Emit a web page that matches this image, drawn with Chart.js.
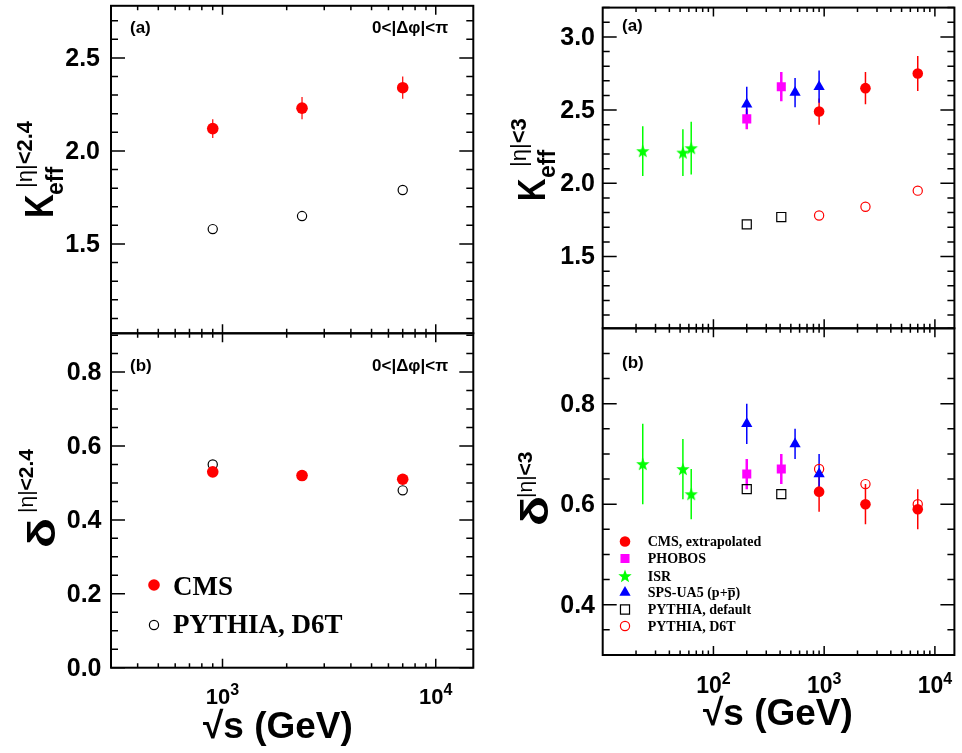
<!DOCTYPE html>
<html>
<head>
<meta charset="utf-8">
<script src="https://cdn.jsdelivr.net/npm/chart.js@4.4.1/dist/chart.umd.min.js"></script>
<style>
  html, body { margin: 0; padding: 0; background: #fff; }
  #wrap { position: relative; width: 962px; height: 753px; overflow: hidden; }
  #wrap canvas { position: absolute; left: 0; top: 0; }
</style>
</head>
<body>
<div id="wrap">
  <canvas id="tl" width="962" height="753"></canvas>
  <canvas id="bl" width="962" height="753"></canvas>
  <canvas id="tr" width="962" height="753"></canvas>
  <canvas id="br" width="962" height="753"></canvas>
</div>
<script>
// left column: CMS |eta|<2.4
const cmsEnergy = [900, 2360, 7000];
const cmsKeff = [2.12, 2.23, 2.34];
const cmsKeffErr = [0.05, 0.06, 0.06];
const cmsDelta = [0.53, 0.52, 0.51];
const d6tLeftKeff = [1.58, 1.65, 1.79];
const d6tLeftDelta = [0.55, 0.52, 0.48];

// right column: |eta|<3 comparison
const isrEnergy = [23, 53, 63];
const isrKeff = [2.22, 2.21, 2.24];
const isrKeffErr = [0.17, 0.16, 0.18];
const isrDelta = [0.68, 0.67, 0.62];
const isrDeltaErr = [0.08, 0.06, 0.05];

const phobosEnergy = [200, 410];
const phobosKeff = [2.44, 2.66];
const phobosKeffErr = [0.07, 0.1];
const phobosDelta = [0.66, 0.67];
const phobosDeltaErr = [0.03, 0.03];

const ua5Energy = [200, 546, 900];
const ua5Keff = [2.54, 2.62, 2.66];
const ua5KeffErr = [0.12, 0.1, 0.11];
const ua5Delta = [0.76, 0.72, 0.66];
const ua5DeltaErr = [0.04, 0.03, 0.04];

const cmsExtEnergy = [900, 2360, 7000];
const cmsExtKeff = [2.49, 2.65, 2.75];
const cmsExtKeffErr = [0.09, 0.11, 0.12];
const cmsExtDelta = [0.625, 0.60, 0.59];
const cmsExtDeltaErr = [0.04, 0.04, 0.04];

const pyDefEnergy = [200, 410];
const pyDefKeff = [1.72, 1.77];
const pyDefDelta = [0.63, 0.62];

const pyD6TEnergy = [900, 2360, 7000];
const pyD6TKeff = [1.78, 1.84, 1.95];
const pyD6TDelta = [0.67, 0.64, 0.60];

// tick labels
const keffTicksLeft = [1.5, 2.0, 2.5];
const deltaTicksLeft = [0.0, 0.2, 0.4, 0.6, 0.8];
const keffTicksRight = [1.5, 2.0, 2.5, 3.0];
const deltaTicksRight = [0.4, 0.6, 0.8];
const decadesLeft = [3, 4];
const decadesRight = [2, 3, 4];

const W = 962, H = 753;
const SANS = '"Liberation Sans", Arial, Helvetica, sans-serif';
const SERIF = '"Liberation Serif", "Times New Roman", serif';

// filled star marker for ISR
const starImg = document.createElement('canvas');
starImg.width = 16; starImg.height = 16;
(function () {
  const c = starImg.getContext('2d');
  c.beginPath();
  for (let i = 0; i < 10; i++) {
    const r = i % 2 ? 2.9 : 7;
    const a = -Math.PI / 2 + i * Math.PI / 5;
    c.lineTo(8 + r * Math.cos(a), 8.5 + r * Math.sin(a));
  }
  c.closePath();
  c.fillStyle = '#00ff00';
  c.fill();
})();

function series(label, xs, ys, errs, st) {
  return Object.assign({
    label,
    data: xs.map((x, i) => ({ x, y: ys[i] })),
    errors: errs,
    borderWidth: 0,
  }, st);
}

const stCms = { pointStyle: 'circle', pointRadius: 5.8, backgroundColor: '#ff0000', borderColor: '#ff0000', errColor: '#ff0000', errWidth: 1.2 };
const stOpenBlack = { pointStyle: 'circle', pointRadius: 4.6, backgroundColor: 'rgba(0,0,0,0)', borderColor: '#000', borderWidth: 1.2 };
const stCmsR = { pointStyle: 'circle', pointRadius: 5.3, backgroundColor: '#ff0000', borderColor: '#ff0000', errColor: '#ff0000', errWidth: 1.5 };
const stPhobos = { pointStyle: 'rect', pointRadius: 6.4, backgroundColor: '#ff00ff', borderColor: '#ff00ff', errColor: '#ff00ff', errWidth: 2.5 };
const stIsr = { pointStyle: starImg, pointRadius: 7, backgroundColor: '#00ff00', borderColor: '#00ff00', errColor: '#00ff00', errWidth: 1.5 };
const stUa5 = { pointStyle: 'triangle', pointRadius: 6.5, backgroundColor: '#0000ff', borderColor: '#0000ff', errColor: '#0000ff', errWidth: 1.5 };
const stPyDef = { pointStyle: 'rect', pointRadius: 6.4, backgroundColor: 'rgba(0,0,0,0)', borderColor: '#000', borderWidth: 1.2 };
const stPyD6T = { pointStyle: 'circle', pointRadius: 4.6, backgroundColor: 'rgba(0,0,0,0)', borderColor: '#ff0000', borderWidth: 1.2 };

// vertical text, reading bottom to top; parts = [[text, font], ...]
function vtext(ctx, parts, xBase, yStart, sx) {
  ctx.save();
  ctx.translate(xBase, yStart);
  ctx.rotate(-Math.PI / 2);
  ctx.scale(sx || 1, 1);
  ctx.textAlign = 'left';
  ctx.textBaseline = 'alphabetic';
  let off = 0;
  parts.forEach(([txt, font]) => {
    ctx.font = font;
    ctx.fillText(txt, off, 0);
    off += ctx.measureText(txt).width;
  });
  ctx.restore();
}

function drawMarker(ctx, ds, x, y) {
  const r = ds.pointRadius;
  if (ds.pointStyle instanceof HTMLCanvasElement) {
    ctx.drawImage(ds.pointStyle, x - ds.pointStyle.width / 2, y - ds.pointStyle.height / 2);
    return;
  }
  ctx.beginPath();
  if (ds.pointStyle === 'circle') {
    ctx.arc(x, y, r, 0, Math.PI * 2);
  } else if (ds.pointStyle === 'rect') {
    const s = r * Math.SQRT1_2;
    ctx.rect(x - s, y - s, 2 * s, 2 * s);
  } else if (ds.pointStyle === 'triangle') {
    for (let k = 0; k < 3; k++) {
      const a = k * 2 * Math.PI / 3;
      ctx.lineTo(x + Math.sin(a) * r, y - Math.cos(a) * r);
    }
    ctx.closePath();
  }
  ctx.fillStyle = ds.backgroundColor;
  ctx.fill();
  if (ds.borderWidth) {
    ctx.lineWidth = ds.borderWidth;
    ctx.strokeStyle = ds.borderColor;
    ctx.stroke();
  }
}

function makePanel(p) {
  const decor = {
    id: 'decor',
    beforeDatasetsDraw(chart) {
      const ctx = chart.ctx, ys = chart.scales.y, a = chart.chartArea;
      ctx.save();
      ctx.beginPath();
      ctx.rect(a.left, a.top, a.right - a.left, a.bottom - a.top);
      ctx.clip();
      chart.data.datasets.forEach((ds, i) => {
        if (!ds.errors) return;
        const meta = chart.getDatasetMeta(i);
        ctx.strokeStyle = ds.errColor;
        ctx.lineWidth = ds.errWidth;
        ds.data.forEach((d, j) => {
          const e = ds.errors[j];
          if (!e) return;
          const px = meta.data[j].x;
          ctx.beginPath();
          ctx.moveTo(px, ys.getPixelForValue(d.y - e));
          ctx.lineTo(px, ys.getPixelForValue(d.y + e));
          ctx.stroke();
        });
      });
      ctx.restore();
    },
    afterDraw(chart) {
      const ctx = chart.ctx, xs = chart.scales.x, ys = chart.scales.y, a = chart.chartArea;
      ctx.save();
      ctx.strokeStyle = '#000';
      ctx.fillStyle = '#000';
      // y ticks, both sides
      ctx.lineWidth = 1.5;
      const n0 = Math.ceil(p.y[0] / p.yMinor - 1e-6), n1 = Math.floor(p.y[1] / p.yMinor + 1e-6);
      for (let k = n0; k <= n1; k++) {
        const v = k * p.yMinor;
        const q = v / p.yMajor;
        const major = Math.abs(q - Math.round(q)) < 1e-6;
        const len = major ? 14 : 7;
        const py = ys.getPixelForValue(v);
        ctx.beginPath();
        ctx.moveTo(a.left, py); ctx.lineTo(a.left + len, py);
        ctx.moveTo(a.right, py); ctx.lineTo(a.right - len, py);
        ctx.stroke();
      }
      // x ticks, top and bottom (log)
      const d0 = Math.floor(Math.log10(p.x[0])), d1 = Math.ceil(Math.log10(p.x[1]));
      for (let d = d0; d <= d1; d++) {
        for (let m = 1; m <= 9; m++) {
          const v = m * Math.pow(10, d);
          if (v <= p.x[0] * 1.001 || v >= p.x[1]) continue;
          const len = m === 1 ? 9 : 4.5;
          const px = xs.getPixelForValue(v);
          ctx.beginPath();
          ctx.moveTo(px, a.bottom); ctx.lineTo(px, a.bottom - len);
          ctx.moveTo(px, a.top); ctx.lineTo(px, a.top + len);
          ctx.stroke();
        }
      }
      // frame
      ctx.lineWidth = 2;
      ctx.strokeRect(a.left, a.top, a.right - a.left, a.bottom - a.top);

      // y tick labels
      ctx.font = 'bold 25px ' + SANS;
      ctx.textAlign = 'right';
      ctx.textBaseline = 'middle';
      p.yLabels.forEach(v => {
        ctx.fillText(v.toFixed(1), p.yLabelRight, ys.getPixelForValue(v) + 1);
      });

      // x tick labels 10^n
      if (p.xLabels) {
        ctx.textBaseline = 'alphabetic';
        ctx.textAlign = 'left';
        p.xLabels.forEach(d => {
          const px = xs.getPixelForValue(Math.pow(10, d));
          ctx.font = 'bold ' + p.xFont + 'px ' + SANS;
          const w1 = ctx.measureText('10').width;
          ctx.font = 'bold 16px ' + SANS;
          const w2 = ctx.measureText(String(d)).width;
          const x0 = px - (w1 + w2) / 2;
          ctx.font = 'bold ' + p.xFont + 'px ' + SANS;
          ctx.fillText('10', x0, p.xLabelBase);
          ctx.font = 'bold 16px ' + SANS;
          ctx.fillText(String(d), x0 + w1, p.xLabelBase - 9);
        });
      }
      p.extra(ctx, chart);
      ctx.restore();
    }
  };
  return new Chart(document.getElementById(p.id), {
    type: 'scatter',
    data: { datasets: p.datasets },
    options: {
      responsive: false,
      animation: false,
      events: [],
      layout: { padding: { left: p.box.l, top: p.box.t, right: W - p.box.r, bottom: H - p.box.b } },
      scales: {
        x: { type: 'logarithmic', min: p.x[0], max: p.x[1], display: false },
        y: { type: 'linear', min: p.y[0], max: p.y[1], display: false }
      },
      plugins: { legend: { display: false }, tooltip: { enabled: false } }
    },
    plugins: [decor]
  });
}

function panelText(ctx, txt, x, y) {
  ctx.font = 'bold 17px ' + SANS;
  ctx.textAlign = 'left';
  ctx.textBaseline = 'alphabetic';
  ctx.fillText(txt, x, y);
}

function supParts(limit, size) {
  return [['|η|', size + 'px ' + SANS], ['<' + limit, 'bold ' + size + 'px ' + SANS]];
}

// top left: K_eff, |eta|<2.4
makePanel({
  id: 'tl', box: { l: 111, t: 3, r: 473.3, b: 333.3 },
  x: [300, 15000], y: [1.02, 2.78], yMajor: 0.5, yMinor: 0.1,
  yLabels: keffTicksLeft, yLabelRight: 100, xLabels: null,
  datasets: [
    series('CMS', cmsEnergy, cmsKeff, cmsKeffErr, stCms),
    series('PYTHIA, D6T', cmsEnergy, d6tLeftKeff, null, stOpenBlack)
  ],
  extra(ctx) {
    panelText(ctx, '(a)', 130, 33);
    panelText(ctx, '0<|Δφ|<π', 372, 33);
    vtext(ctx, [['K', 'bold 41px ' + SANS]], 53, 218, 0.8);
    vtext(ctx, [['eff', 'bold 23px ' + SANS]], 63, 195);
    vtext(ctx, supParts('2.4', 22), 32, 188);
  }
});

// bottom left: delta, |eta|<2.4
makePanel({
  id: 'bl', box: { l: 111, t: 333.3, r: 473.3, b: 667.7 },
  x: [300, 15000], y: [0, 0.905], yMajor: 0.2, yMinor: 0.05,
  yLabels: deltaTicksLeft, yLabelRight: 101.5, xLabels: decadesLeft, xFont: 22, xLabelBase: 704,
  datasets: [
    series('CMS', cmsEnergy, cmsDelta, null, stCms),
    series('PYTHIA, D6T', cmsEnergy, d6tLeftDelta, null, stOpenBlack)
  ],
  extra(ctx, chart) {
    panelText(ctx, '(b)', 130, 371);
    panelText(ctx, '0<|Δφ|<π', 372, 371);
    vtext(ctx, [['δ', 'bold 38px ' + SANS]], 55, 548, 1.3);
    vtext(ctx, supParts('2.4', 21), 33, 513);
    // legend
    const ds = chart.data.datasets;
    const rows = [[585, 595], [625, 633]];
    ds.forEach((d, i) => {
      drawMarker(ctx, d, 154, rows[i][0]);
      ctx.fillStyle = '#000';
      ctx.font = 'bold 27px ' + SERIF;
      ctx.textAlign = 'left';
      ctx.textBaseline = 'alphabetic';
      ctx.fillText(d.label, 173, rows[i][1]);
    });
    // axis title
    ctx.font = 'bold 37px ' + SANS;
    ctx.fillText('√s (GeV)', 203, 738);
  }
});

// top right: K_eff, |eta|<3
makePanel({
  id: 'tr', box: { l: 602.7, t: 0.5, r: 960, b: 328.3 },
  x: [10, 15000], y: [1.01, 3.2], yMajor: 0.5, yMinor: 0.1,
  yLabels: keffTicksRight, yLabelRight: 595, xLabels: null,
  datasets: [
    series('CMS, extrapolated', cmsExtEnergy, cmsExtKeff, cmsExtKeffErr, stCmsR),
    series('PHOBOS', phobosEnergy, phobosKeff, phobosKeffErr, stPhobos),
    series('ISR', isrEnergy, isrKeff, isrKeffErr, stIsr),
    series('SPS-UA5 (p+p\u0305)', ua5Energy, ua5Keff, ua5KeffErr, stUa5),
    series('PYTHIA, default', pyDefEnergy, pyDefKeff, null, stPyDef),
    series('PYTHIA, D6T', pyD6TEnergy, pyD6TKeff, null, stPyD6T)
  ],
  extra(ctx) {
    panelText(ctx, '(a)', 622, 31);
    vtext(ctx, [['K', 'bold 39px ' + SANS]], 545, 201, 0.8);
    vtext(ctx, [['eff', 'bold 23px ' + SANS]], 555, 178);
    vtext(ctx, supParts('3', 22), 526, 167);
  }
});

// bottom right: delta, |eta|<3
makePanel({
  id: 'br', box: { l: 602.7, t: 328.3, r: 960, b: 655 },
  x: [10, 15000], y: [0.3, 0.95], yMajor: 0.2, yMinor: 0.05,
  yLabels: deltaTicksRight, yLabelRight: 595, xLabels: decadesRight, xFont: 23, xLabelBase: 693,
  datasets: [
    series('CMS, extrapolated', cmsExtEnergy, cmsExtDelta, cmsExtDeltaErr, stCmsR),
    series('PHOBOS', phobosEnergy, phobosDelta, phobosDeltaErr, stPhobos),
    series('ISR', isrEnergy, isrDelta, isrDeltaErr, stIsr),
    series('SPS-UA5 (p+p\u0305)', ua5Energy, ua5Delta, ua5DeltaErr, stUa5),
    series('PYTHIA, default', pyDefEnergy, pyDefDelta, null, stPyDef),
    series('PYTHIA, D6T', pyD6TEnergy, pyD6TDelta, null, stPyD6T)
  ],
  extra(ctx, chart) {
    panelText(ctx, '(b)', 622, 368);
    vtext(ctx, [['δ', 'bold 38px ' + SANS]], 548, 526, 1.3);
    vtext(ctx, supParts('3', 21), 532, 498);
    // legend
    const base = [546, 563, 580.5, 597, 614, 630.5];
    chart.data.datasets.forEach((d, i) => {
      drawMarker(ctx, d, 625, base[i] - 4.5);
      ctx.fillStyle = '#000';
      ctx.font = 'bold 14px ' + SERIF;
      ctx.textAlign = 'left';
      ctx.textBaseline = 'alphabetic';
      ctx.fillText(d.label, 647.7, base[i]);
    });
    ctx.font = 'bold 37px ' + SANS;
    ctx.fillText('√s (GeV)', 703, 725);
  }
});
</script>
</body>
</html>
